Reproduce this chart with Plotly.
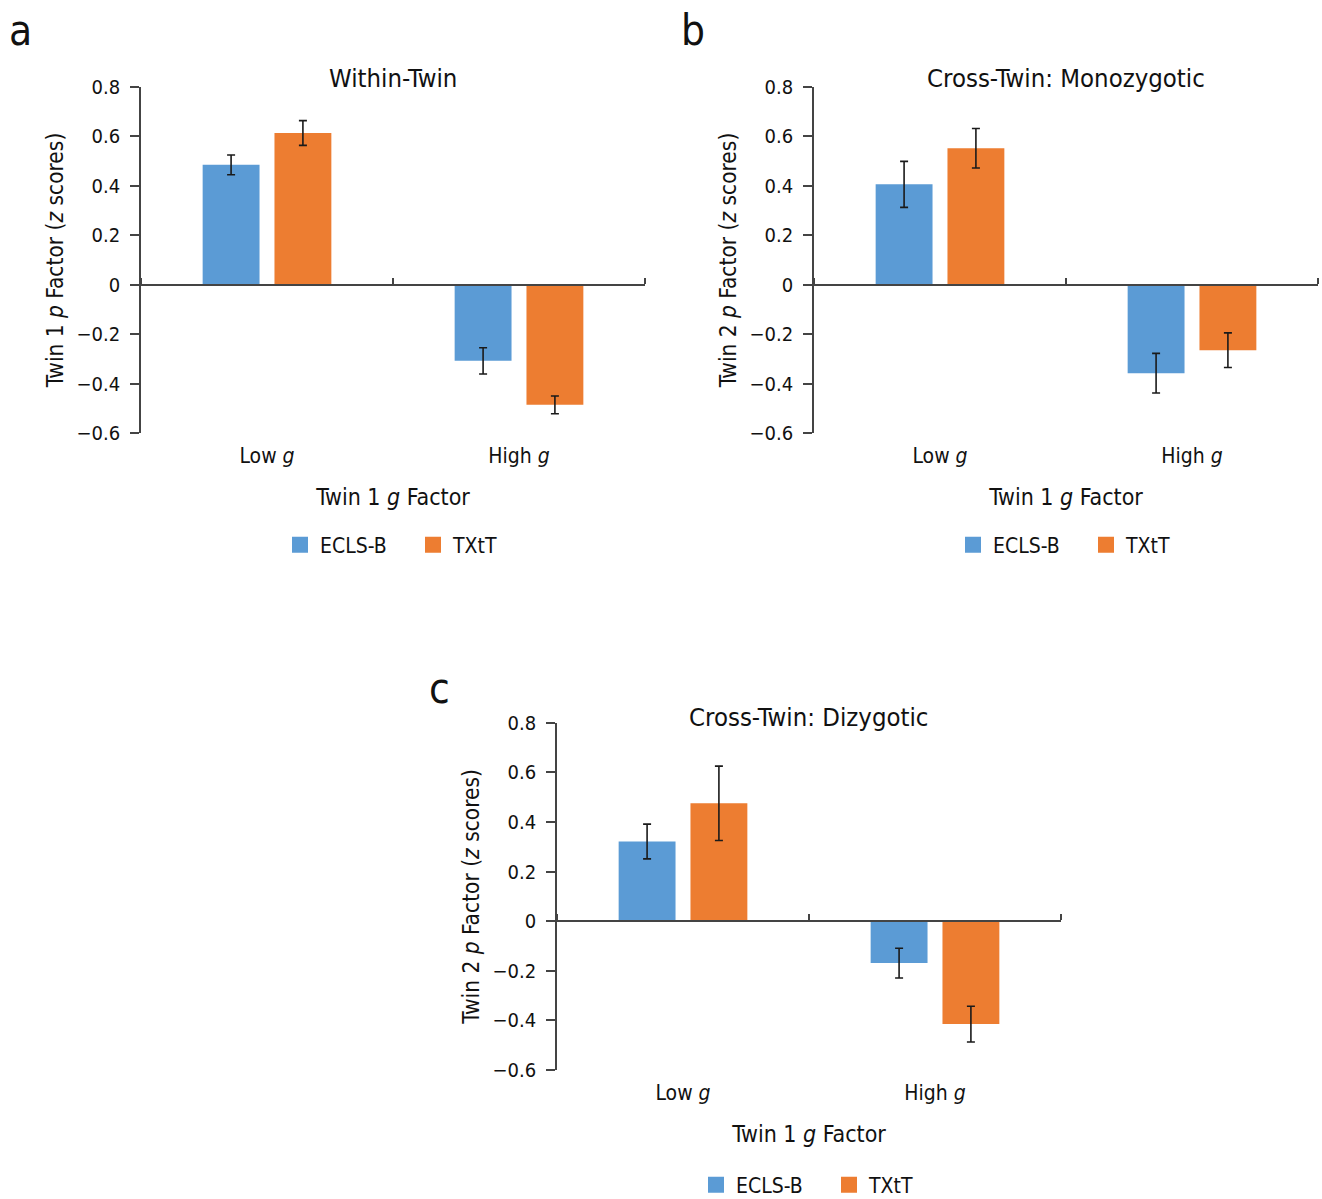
import plotly.graph_objects as go

FONT = "Liberation Sans Narrow, DejaVu Sans Condensed, Arial Narrow, sans-serif"
BLUE = "#5B9BD5"
ORANGE = "#ED7D31"
AXC = "#444444"

categories = ["Low <i>g</i>", "High <i>g</i>"]
series_names = ["ECLS-B", "TXtT"]

# Panel a: Within-Twin
a_ecls = [0.485, -0.308]
a_ecls_err = [0.040, 0.053]
a_txtt = [0.614, -0.486]
a_txtt_err = [0.050, 0.036]

# Panel b: Cross-Twin Monozygotic
b_ecls = [0.406, -0.358]
b_ecls_err = [0.093, 0.080]
b_txtt = [0.552, -0.265]
b_txtt_err = [0.080, 0.070]

# Panel c: Cross-Twin Dizygotic
c_ecls = [0.321, -0.169]
c_ecls_err = [0.070, 0.060]
c_txtt = [0.475, -0.415]
c_txtt_err = [0.150, 0.072]

panel_titles = ["Within-Twin", "Cross-Twin: Monozygotic", "Cross-Twin: Dizygotic"]
panel_letters = ["a", "b", "c"]
y_titles = ["Twin 1 <i>p</i> Factor (<i>z</i> scores)",
            "Twin 2 <i>p</i> Factor (<i>z</i> scores)",
            "Twin 2 <i>p</i> Factor (<i>z</i> scores)"]
x_title = "Twin 1 <i>g</i> Factor"
y_range = [-0.6, 0.8]

W, H = 1322, 1199
# pixel layout of plot areas (left, right, top, bottom)
boxes = [(141, 645, 87, 433), (814, 1318, 87, 433), (557, 1061, 722.7, 1070)]
letter_pos = [(20, 30), (693, 30), (440, 688)]
title_y = [78, 78, 717]
legend_y = [545, 545, 1185]

panels = [
    (a_ecls, a_ecls_err, a_txtt, a_txtt_err),
    (b_ecls, b_ecls_err, b_txtt, b_txtt_err),
    (c_ecls, c_ecls_err, c_txtt, c_txtt_err),
]

fig = go.Figure()
layout = dict(
    width=W, height=H, margin=dict(l=0, r=0, t=0, b=0, autoexpand=False),
    paper_bgcolor="white", plot_bgcolor="white",
    barmode="group", bargap=0.43, bargroupgap=0.208,
    font=dict(family=FONT, color="#111111"),
    showlegend=True,
)
annotations = []

for i, (ecls, ecls_err, txtt, txtt_err) in enumerate(panels):
    n = i + 1
    xs = "" if n == 1 else str(n)
    xa, ya = "x" + xs, "y" + xs
    leg = "legend" + ("" if n == 1 else str(n))
    l, r, t, b = boxes[i]
    xd = [l / W, r / W]
    yd = [1 - b / H, 1 - t / H]

    for name, vals, errs, col in [(series_names[0], ecls, ecls_err, BLUE),
                                  (series_names[1], txtt, txtt_err, ORANGE)]:
        fig.add_trace(go.Bar(
            x=categories, y=vals, name=name, marker=dict(color=col, line=dict(width=0)),
            error_y=dict(type="data", array=errs, visible=True, color="#1a1a1a",
                         thickness=1.6, width=4),
            xaxis=xa, yaxis=ya, showlegend=False,
        ))
        fig.add_trace(go.Scatter(
            x=[None], y=[None], mode="markers", name=name,
            marker=dict(symbol="square", size=20, color=col),
            xaxis=xa, yaxis=ya, legend=leg, showlegend=True,
        ))

    # overlay axis acting as the zero line with boundary ticks
    ov = 3 + n
    zero_pos = yd[0] + (0 - y_range[0]) / (y_range[1] - y_range[0]) * (yd[1] - yd[0])
    bounds = [k - 0.5 for k in range(len(categories) + 1)]
    fig.add_trace(go.Scatter(x=list(range(len(categories))), y=[None] * len(categories),
                             mode="markers", xaxis="x" + str(ov), yaxis=ya,
                             showlegend=False, hoverinfo="skip"))
    layout["xaxis" + str(ov)] = dict(
        overlaying=xa, anchor="free", position=zero_pos, domain=xd, side="top",
        range=[-0.5, len(categories) - 0.5], tickvals=bounds, ticks="outside",
        ticklen=6, tickwidth=1.5, tickcolor=AXC, showticklabels=False,
        showline=True, linecolor=AXC, linewidth=1.6, showgrid=False, zeroline=False,
    )

    layout["xaxis" + xs] = dict(
        domain=xd, anchor=ya, type="category", showline=False, ticks="",
        showgrid=False, zeroline=False, tickfont=dict(size=21), ticklabelstandoff=8,
        title=dict(text=x_title, font=dict(size=23), standoff=21),
    )
    layout["yaxis" + xs] = dict(
        domain=yd, anchor=xa, range=y_range, dtick=0.2, tick0=0,
        showline=True, linecolor=AXC, linewidth=1.6, ticks="outside",
        ticklen=9, tickwidth=1.5, tickcolor=AXC, showgrid=False, zeroline=False,
        tickfont=dict(size=20), ticklabelstandoff=6,
        title=dict(text=y_titles[i], font=dict(size=22.5), standoff=7),
    )
    layout[leg] = dict(
        orientation="h", x=(l + r) / 2 / W + 20 / W, xanchor="center",
        y=1 - legend_y[i] / H, yanchor="middle",
        font=dict(size=21), itemsizing="trace", bgcolor="rgba(0,0,0,0)",
        entrywidth=88, entrywidthmode="pixels",
    )
    annotations.append(dict(
        text=panel_titles[i], x=(l + r) / 2 / W, y=1 - title_y[i] / H,
        xref="paper", yref="paper", xanchor="center", yanchor="middle",
        showarrow=False, font=dict(size=25.5),
    ))
    lx, ly = letter_pos[i]
    annotations.append(dict(
        text=panel_letters[i], x=lx / W, y=1 - ly / H, xref="paper", yref="paper",
        xanchor="center", yanchor="middle", showarrow=False, font=dict(size=42),
    ))

layout["annotations"] = annotations
fig.update_layout(**layout)
fig.write_html("out.html", config={"displayModeBar": False},
               post_script="document.body.style.margin='0';document.body.style.padding='0';")
